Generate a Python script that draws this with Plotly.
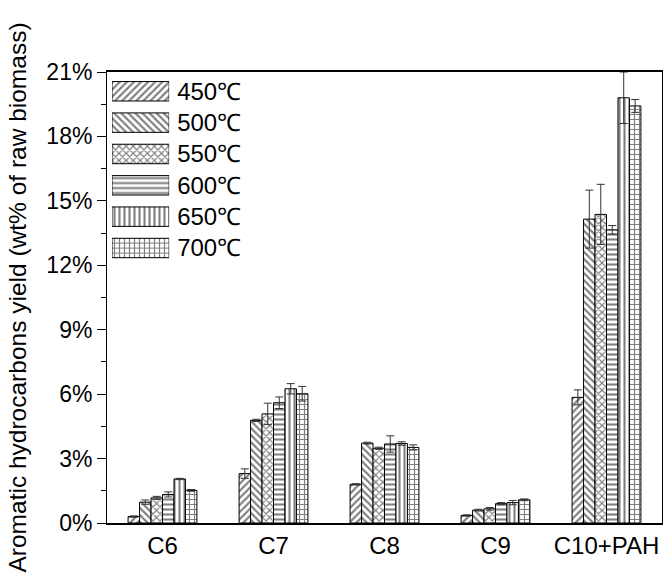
import plotly.graph_objects as go

categories = ["C6", "C7", "C8", "C9", "C10+PAH"]
series_names = ["450℃", "500℃", "550℃", "600℃", "650℃", "700℃"]
values = {
    "450℃": [0.30, 2.30, 1.80, 0.35, 5.85],
    "500℃": [0.97, 4.78, 3.72, 0.60, 14.15],
    "550℃": [1.17, 5.08, 3.48, 0.66, 14.37],
    "600℃": [1.33, 5.60, 3.68, 0.90, 13.65],
    "650℃": [2.05, 6.25, 3.70, 0.95, 19.80],
    "700℃": [1.52, 6.02, 3.52, 1.08, 19.42],
}
errors = {
    "450℃": [0.03, 0.22, 0.03, 0.03, 0.35],
    "500℃": [0.10, 0.05, 0.04, 0.04, 1.35],
    "550℃": [0.07, 0.50, 0.05, 0.06, 1.40],
    "600℃": [0.12, 0.27, 0.38, 0.05, 0.20],
    "650℃": [0.03, 0.24, 0.08, 0.10, 1.20],
    "700℃": [0.04, 0.34, 0.12, 0.04, 0.30],
}
patterns = ["/", "\\", "x", "-", "|", "+"]
y_ticks = [0, 3, 6, 9, 12, 15, 18, 21]

FONT = "Arial, Liberation Sans, sans-serif"


def pattern_marker(pat):
    return dict(color="white", line=dict(color="black", width=1),
                pattern=dict(shape=pat, fgcolor="black", bgcolor="white",
                             size=5, solidity=0.42, fillmode="overlay"))


fig = go.Figure()
for name, pat in zip(series_names, patterns):
    fig.add_trace(go.Bar(
        x=categories, y=values[name], name=name,
        marker=pattern_marker(pat),
        error_y=dict(type="data", array=errors[name], color="#333333",
                     thickness=1, width=4),
        showlegend=False,
    ))

# inset legend built as horizontal swatch bars
for name, pat in zip(series_names, patterns):
    fig.add_trace(go.Bar(
        x=[1], y=[name], orientation="h", xaxis="x2", yaxis="y2",
        marker=pattern_marker(pat),
        showlegend=False, hoverinfo="skip",
    ))

fig.update_layout(
    width=667, height=581,
    margin=dict(l=107, r=5, t=72, b=58),
    paper_bgcolor="white", plot_bgcolor="rgba(0,0,0,0)",
    barmode="group", bargap=0.38, bargroupgap=0,
    font=dict(family=FONT, color="black"),
    xaxis=dict(
        range=[-0.5, 4.5], showline=True, linecolor="black", linewidth=1.5,
        mirror=True, ticks="", showgrid=False, zeroline=False,
        tickfont=dict(size=24, family=FONT),
    ),
    yaxis=dict(
        range=[0, 21], tickvals=y_ticks, ticktext=[f"{v}%" for v in y_ticks],
        showline=True, linecolor="black", linewidth=1, mirror=True,
        ticks="outside", ticklen=9, tickwidth=1, tickcolor="black",
        minor=dict(dtick=1.5, ticks="outside", ticklen=5, tickcolor="black"),
        showgrid=False, zeroline=False,
        tickfont=dict(size=23, family=FONT),
        title=dict(text="Aromatic hydrocarbons yield (wt% of raw biomass)",
                   font=dict(size=24.5, family=FONT), standoff=12),
    ),
    xaxis2=dict(domain=[0.009, 0.112], anchor="y2", range=[0, 1],
                visible=False, fixedrange=True),
    yaxis2=dict(domain=[0.575, 0.992], anchor="x2", side="right",
                categoryorder="array", categoryarray=series_names[::-1],
                showline=False, ticks="", showgrid=False, zeroline=False,
                ticklabelstandoff=7,
                tickfont=dict(size=24, family=FONT), fixedrange=True),
)
fig.write_html("out.html")
